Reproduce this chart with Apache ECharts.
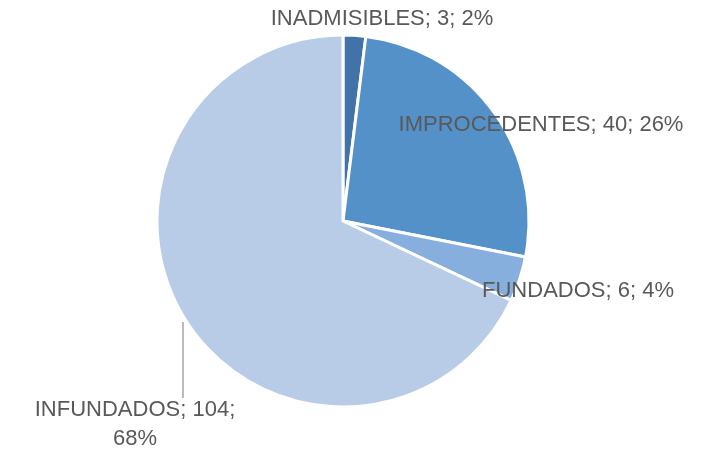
<!DOCTYPE html>
<html>
<head>
<meta charset="utf-8">
<script src="https://cdn.jsdelivr.net/npm/echarts@6/dist/echarts.min.js"></script>
<style>
  html, body { margin: 0; padding: 0; background: #fff; }
  #chart { width: 713px; height: 449px; }
</style>
</head>
<body>
<div id="chart"></div>
<script>
// datos del gráfico
var categories = ["INADMISIBLES", "IMPROCEDENTES", "FUNDADOS", "INFUNDADOS"];
var values = [3, 40, 6, 104];
var percents = ["2%", "26%", "4%", "68%"];
var colors = ["#4173a8", "#5591c9", "#86afdd", "#b8cce8"];

(function() {
  var myChart = echarts.init(document.getElementById("chart"));

  // posiciones de las etiquetas (centro del texto)
  var labelPos = [
    [382, 19],
    [541, 125],
    [578, 291],
    [135, 424]
  ];

  var data = [];
  for (var i = 0; i < categories.length; i++) {
    data.push({
      name: categories[i],
      value: values[i],
      itemStyle: { color: colors[i] }
    });
  }

  var option = {
    backgroundColor: "#fff",
    series: [
      {
        type: "pie",
        center: [343, 221],
        radius: 186,
        startAngle: 90,
        clockwise: true,
        animation: false,
        itemStyle: {
          borderColor: "#fff",
          borderWidth: 3
        },
        label: {
          show: true,
          color: "#595959",
          fontFamily: "Liberation Sans",
          fontSize: 22,
          lineHeight: 29,
          align: "center",
          overflow: "none",
          formatter: function(p) {
            var i = p.dataIndex;
            if (i === 3) {
              return categories[i] + "; " + values[i] + ";\n" + percents[i];
            }
            return categories[i] + "; " + values[i] + "; " + percents[i];
          }
        },
        labelLine: { show: false },
        labelLayout: function(params) {
          var p = labelPos[params.dataIndex];
          return { x: p[0], y: p[1], align: "center", verticalAlign: "middle", width: 400 };
        },
        data: data
      }
    ],
    graphic: [
      {
        type: "line",
        shape: { x1: 183, y1: 322, x2: 183, y2: 398 },
        style: { stroke: "#a6a6a6", lineWidth: 1.5 }
      }
    ]
  };

  myChart.setOption(option);
})();
</script>
</body>
</html>
